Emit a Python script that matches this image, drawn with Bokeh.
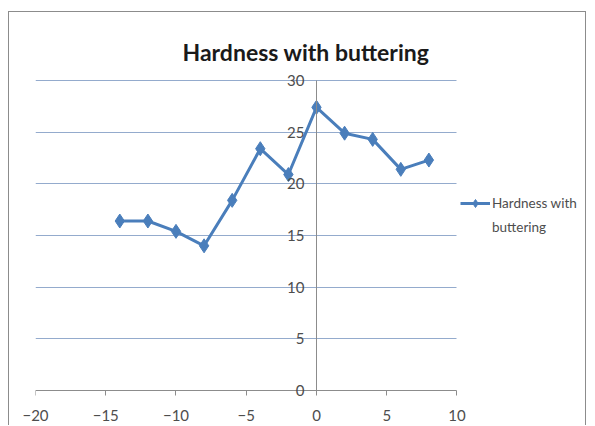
from bokeh.plotting import figure
from bokeh.models import Range1d, Legend, LegendItem, FixedTicker, LinearAxis
from bokeh.embed import file_html
from bokeh.resources import INLINE

# data
position_x = [-14, -12, -10, -8, -6, -4, -2, 0, 2, 4, 6, 8]
hardness = [16.4, 16.4, 15.4, 14.0, 18.4, 23.4, 20.9, 27.4, 24.9, 24.3, 21.4, 22.3]
x_ticks = [-20, -15, -10, -5, 0, 5, 10]
y_ticks = [0, 5, 10, 15, 20, 25, 30]
title_text = "Hardness with buttering"
series_label_lines = ["Hardness with", "buttering"]

FONT = "Lato"
BLUE = "#4A7EBB"
GRID_BLUE = "#94ABCD"
AXIS_GRAY = "#8C8C8C"
TEXT_GRAY = "#4D4D4D"
FRAME_BORDER = "1px solid #8c8c8c"

p = figure(width=578, height=414, output_backend="svg", toolbar_location=None,
           x_range=Range1d(-20, 19.29), y_range=Range1d(-1.742, 31.16),
           x_axis_location=None, y_axis_location=None,
           min_border_left=26, min_border_right=0, min_border_top=56, min_border_bottom=18,
           styles={"margin-left": "8px", "margin-top": "11px",
                   "border-left": FRAME_BORDER, "border-top": FRAME_BORDER,
                   "border-right": FRAME_BORDER})
p.outline_line_color = None
p.background_fill_color = "white"
p.border_fill_color = "white"

# horizontal gridlines, only over the x extent of the axis
p.xgrid.grid_line_color = None
if "cross_bounds" in p.ygrid[0].properties():
    p.ygrid.ticker = FixedTicker(ticks=y_ticks[1:])
    p.ygrid.grid_line_color = GRID_BLUE
    p.ygrid.grid_line_width = 1
    p.ygrid.cross_bounds = (x_ticks[0], x_ticks[-1])
else:
    p.ygrid.grid_line_color = None
    p.segment(x0=x_ticks[0], x1=x_ticks[-1], y0=y_ticks[1:], y1=y_ticks[1:],
              line_color=GRID_BLUE, line_width=1)

line_r = p.line(position_x, hardness, line_color=BLUE, line_width=3)
sc_r = p.scatter(position_x, hardness, marker="diamond", size=14, fill_color=BLUE, line_color=BLUE)
# empty, invisible renderer used only for the wrapped second line of the legend label
wrap_r = p.line(x=[], y=[], line_alpha=0)

# vertical axis crossing at x = 0
yax = LinearAxis(ticker=FixedTicker(ticks=y_ticks), fixed_location=0,
                 bounds=(y_ticks[0], y_ticks[-1]))
yax.axis_line_color = AXIS_GRAY
yax.major_tick_out = 0
yax.major_tick_in = 0
yax.minor_tick_line_color = None
yax.major_label_standoff = 12
yax.major_label_text_font = FONT
yax.major_label_text_font_size = "15px"
yax.major_label_text_color = TEXT_GRAY
p.add_layout(yax, "left")

# horizontal axis line + tick marks at y = 0 (tick marks drawn as unlabeled minor ticks)
xline = LinearAxis(ticker=FixedTicker(ticks=[], minor_ticks=x_ticks), fixed_location=0,
                   bounds=(x_ticks[0], x_ticks[-1]))
xline.axis_line_color = AXIS_GRAY
xline.major_tick_line_color = None
xline.minor_tick_line_color = AXIS_GRAY
xline.minor_tick_out = 0
xline.minor_tick_in = 5
xline.major_tick_out = 0
xline.major_tick_in = 0
xline.major_label_standoff = 0
p.add_layout(xline, "above")

# horizontal axis labels along the bottom
xlab = LinearAxis(ticker=FixedTicker(ticks=x_ticks), bounds=(x_ticks[0], x_ticks[-1]))
xlab.axis_line_color = None
xlab.major_tick_line_color = None
xlab.minor_tick_line_color = None
xlab.major_tick_out = 0
xlab.major_tick_in = 0
xlab.major_label_standoff = 1
xlab.major_label_text_font = FONT
xlab.major_label_text_font_size = "15px"
xlab.major_label_text_color = TEXT_GRAY
p.add_layout(xlab, "below")

p.title.text = title_text
p.title.align = "left"
p.title.offset = 147
p.title.standoff = 6
p.title.text_font = FONT
p.title.text_font_style = "bold"
p.title.text_font_size = "23px"
p.title.text_color = "#1A1A1A"

legend = Legend(items=[LegendItem(label=series_label_lines[0], renderers=[line_r, sc_r]),
                       LegendItem(label=series_label_lines[1], renderers=[wrap_r])],
                location=(425, 171), border_line_color=None, background_fill_alpha=0,
                padding=0, margin=0, spacing=4, glyph_width=30, glyph_height=20,
                label_standoff=2, label_height=20,
                label_text_font=FONT, label_text_font_size="13.5px",
                label_text_color=TEXT_GRAY)
p.add_layout(legend)

open("out.html", "w").write(file_html(p, INLINE))
